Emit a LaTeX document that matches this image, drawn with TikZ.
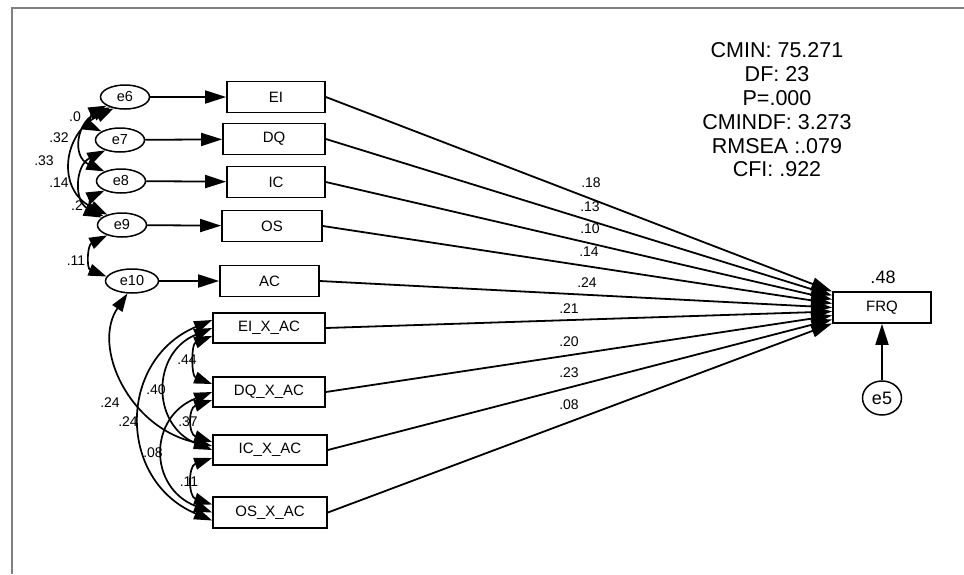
\documentclass[tikz,border=0pt]{standalone}
\usepackage{fontspec}
\setmainfont{Liberation Sans}
\usetikzlibrary{shapes.geometric,arrows.meta,calc}
\definecolor{framegray}{RGB}{128,128,128}
\begin{document}
\begin{tikzpicture}[x=1pt,y=-1pt,
  every node/.style={font=\fontsize{15}{17}\selectfont},
  obs/.style={draw, line width=1.7pt, rectangle, minimum height=31pt, inner sep=0pt},
  err/.style={draw, line width=1.5pt, ellipse, minimum width=49pt, minimum height=24pt, inner sep=0pt, font=\fontsize{14.5}{16}\selectfont},
  regr/.style={line width=1.8pt, -{Triangle[length=21pt,width=13pt]}},
  cov/.style={line width=1.7pt, {Triangle[length=18pt,width=12pt]}-{Triangle[length=18pt,width=12pt]}},
  coef/.style={font=\fontsize{14}{16}\selectfont, inner sep=0pt},
]
\useasboundingbox (0,0) rectangle (964,574);
\draw[framegray, line width=2pt] (12,574) -- (12,7.5) -- (964,7.5);

% observed variables
\node[obs, minimum width=98pt]  (EI)  at (276,97)   {EI};
\node[obs, minimum width=102pt] (DQ)  at (274,139)  {DQ};
\node[obs, minimum width=98pt]  (IC)  at (276,182)  {IC};
\node[obs, minimum width=100pt] (OS)  at (272,226)  {OS};
\node[obs, minimum width=99pt]  (AC)  at (269.5,281) {AC};
\node[obs, minimum width=112pt, minimum height=30pt] (EIX) at (269,328) {EI\_X\_AC};
\node[obs, minimum width=112pt, minimum height=30pt] (DQX) at (269,392) {DQ\_X\_AC};
\node[obs, minimum width=114pt, minimum height=30pt] (ICX) at (270,450) {IC\_X\_AC};
\node[obs, minimum width=114pt] (OSX) at (270,512.5) {OS\_X\_AC};
\node[obs, minimum width=98pt]  (FRQ) at (882,307.5) {FRQ};

% error terms
\node[err] (e6) at (125,97) {e6};
\node[err] (e7) at (120,140) {e7};
\node[err] (e8) at (121,181) {e8};
\node[err] (e9) at (122,225) {e9};
\node[err, minimum width=53pt] (e10) at (132,281) {e10};
\node[err, minimum width=39pt, minimum height=34pt, font=\fontsize{18}{20}\selectfont] (e5) at (882,398) {e5};

% error arrows
\draw[regr] (e6) -- (EI);
\draw[regr] (e7) -- (DQ);
\draw[regr] (e8) -- (IC);
\draw[regr] (e9) -- (OS);
\draw[regr] (e10) -- (AC);
\draw[regr] (e5) -- (FRQ);

% regression paths
\foreach \s/\o in {EI/-16, DQ/-12, IC/-8, OS/-4, AC/0, EIX/4, DQX/8, ICX/12, OSX/16}
  \draw[regr] (\s.east) -- ($(FRQ.west)+(0,\o)$);

% path coefficients
\node[coef] at (591,183) {.18};
\node[coef] at (590,207) {.13};
\node[coef] at (590,229) {.10};
\node[coef] at (589,252) {.14};
\node[coef] at (587,283) {.24};
\node[coef] at (569,309) {.21};
\node[coef] at (569,342) {.20};
\node[coef] at (569,373) {.23};
\node[coef] at (569,405) {.08};
\node[font=\fontsize{18}{20}\selectfont] at (883,277) {.48};

% covariance labels
\node[coef] at (75,117) {.0};
\node[coef] at (59,138) {.32};
\node[coef] at (44,161) {.33};
\node[coef] at (59,183) {.14};
\node[coef] at (77,206) {.2};
\node[coef] at (76,261) {.11};
\node[coef] at (187,360) {.44};
\node[coef] at (156,390) {.40};
\node[coef] at (110,403) {.24};
\node[coef] at (128,422) {.24};
\node[coef] at (188,422) {.37};
\node[coef] at (153,453) {.08};
\node[coef] at (189,482) {.11};

% covariances among errors
\draw[cov] (e6.205) .. controls +(-13,6) and +(-13,-6) .. (e7.155);
\draw[cov] (e6.215) .. controls +(-33,15) and +(-33,-15) .. (e8.150);
\draw[cov] (e6.225) .. controls +(-51,25) and +(-51,-25) .. (e9.145);
\draw[cov] (e7.215) .. controls +(-30,15) and +(-30,-15) .. (e9.155);
\draw[cov] (e8.210) .. controls +(-13,6) and +(-13,-6) .. (e9.160);
\draw[cov] (e9.215) .. controls +(-20,10) and +(-20,-8) .. (e10.170);
\draw[cov] (e10.250) .. controls +(-36,53) and +(-83,-18) .. ($(ICX.west)+(0,-4)$);

% covariances among products
\draw[cov] ($(EIX.west)+(0,8)$) .. controls +(-21,8) and +(-21,-8) .. ($(DQX.west)+(0,-8)$);
\draw[cov] ($(DQX.west)+(0,8)$) .. controls +(-24,8) and +(-24,-8) .. ($(ICX.west)+(0,-8)$);
\draw[cov] ($(ICX.west)+(0,8)$) .. controls +(-24,8) and +(-24,-8) .. ($(OSX.west)+(0,-8)$);
\draw[cov] (EIX.west) .. controls +(-61,25) and +(-61,-25) .. (ICX.west);
\draw[cov] (DQX.west) .. controls +(-64,25) and +(-64,-25) .. (OSX.west);
\draw[cov] ($(EIX.west)+(0,-8)$) .. controls +(-95,40) and +(-95,-40) .. ($(OSX.west)+(0,8)$);

% fit statistics
\node[align=center, font=\fontsize{21.5}{23.8}\selectfont] (fit) at (777,110)
  {CMIN: 75.271\\DF: 23\\P=.000\\CMINDF: 3.273\\RMSEA :.079\\CFI: .922};
\end{tikzpicture}
\end{document}
